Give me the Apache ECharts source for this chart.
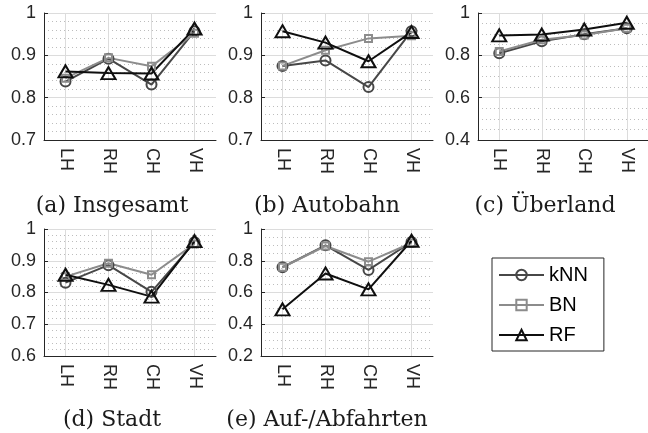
<!DOCTYPE html>
<html>
<head>
<meta charset="utf-8">
<script src="https://cdn.jsdelivr.net/npm/echarts@6/dist/echarts.min.js"></script>
<style>
  html, body { margin: 0; padding: 0; background: #fff; }
  #chart { width: 648px; height: 433px; }
</style>
</head>
<body>
<div id="chart"></div>
<script>
// Categories on every x axis
const categories = ['LH', 'RH', 'CH', 'VH'];

// Panel captions
const captions = ['(a) Insgesamt', '(b) Autobahn', '(c) Überland', '(d) Stadt', '(e) Auf-/Abfahrten'];

// Classifier names
const methods = ['kNN', 'BN', 'RF'];

// (a) Insgesamt
const knnInsgesamt = [0.838, 0.892, 0.831, 0.957];
const bnInsgesamt  = [0.846, 0.894, 0.874, 0.952];
const rfInsgesamt  = [0.862, 0.858, 0.857, 0.963];

// (b) Autobahn
const knnAutobahn = [0.875, 0.888, 0.825, 0.957];
const bnAutobahn  = [0.875, 0.912, 0.940, 0.946];
const rfAutobahn  = [0.957, 0.930, 0.886, 0.955];

// (c) Überland
const knnUeberland = [0.810, 0.866, 0.900, 0.928];
const bnUeberland  = [0.818, 0.874, 0.896, 0.928];
const rfUeberland  = [0.894, 0.898, 0.922, 0.954];

// (d) Stadt
const knnStadt = [0.831, 0.886, 0.802, 0.958];
const bnStadt  = [0.850, 0.892, 0.856, 0.953];
const rfStadt  = [0.856, 0.824, 0.787, 0.962];

// (e) Auf-/Abfahrten
const knnRampen = [0.759, 0.897, 0.742, 0.918];
const bnRampen  = [0.759, 0.893, 0.794, 0.912];
const rfRampen  = [0.494, 0.720, 0.620, 0.926];

const panelData = [
  [knnInsgesamt, bnInsgesamt, rfInsgesamt],
  [knnAutobahn, bnAutobahn, rfAutobahn],
  [knnUeberland, bnUeberland, rfUeberland],
  [knnStadt, bnStadt, rfStadt],
  [knnRampen, bnRampen, rfRampen]
];

// Y axis ranges per panel
const yMins  = [0.7, 0.7, 0.4, 0.6, 0.2];
const yMaxs  = [1, 1, 1, 1, 1];
const ySteps = [0.1, 0.1, 0.2, 0.1, 0.2];
const yMinorSplits = [5, 5, 4, 5, 4];

// Layout of the five plot areas
const gridBoxes = [
  { left: 44,  top: 13,  width: 172, height: 127 },
  { left: 261, top: 13,  width: 172, height: 127 },
  { left: 478, top: 13,  width: 174, height: 127 },
  { left: 44,  top: 229, width: 172, height: 127 },
  { left: 261, top: 229, width: 172, height: 127 }
];
const captionPos = [[112, 206], [327, 206], [545, 206], [112, 420], [327, 420]];

const lineColors = ['#474747', '#8c8c8c', '#0f0f0f'];
const symbols = ['circle', 'rect', 'triangle'];
const symbolSizes = [10, 7, [14, 12]];

const axisColor = '#262626';
const labelFont = 'Liberation Sans, Arial, Helvetica, sans-serif';

const grids = [], xAxes = [], yAxes = [], series = [], graphics = [];

gridBoxes.forEach((g, i) => {
  grids.push(Object.assign({ containLabel: false }, g));
  xAxes.push({
    type: 'category',
    gridIndex: i,
    data: categories,
    boundaryGap: true,
    axisLine: { onZero: false, lineStyle: { color: axisColor, width: 1 } },
    axisTick: { inside: true, alignWithLabel: true, length: 4, lineStyle: { color: axisColor } },
    axisLabel: { rotate: -90, interval: 0, margin: 8, fontSize: 18, color: axisColor, fontFamily: labelFont },
    splitLine: { show: true, alignWithLabel: true, lineStyle: { color: '#dcdcdc', width: 1 } }
  });
  yAxes.push({
    type: 'value',
    gridIndex: i,
    min: yMins[i],
    max: yMaxs[i],
    interval: ySteps[i],
    axisLine: { show: true, lineStyle: { color: axisColor, width: 1 } },
    axisTick: { show: true, inside: true, length: 4, lineStyle: { color: axisColor } },
    axisLabel: {
      margin: 8, fontSize: 18, color: axisColor, fontFamily: labelFont,
      formatter: v => String(Math.round(v * 10) / 10)
    },
    splitLine: { show: true, lineStyle: { color: '#dcdcdc', width: 1 } },
    minorTick: { show: false, splitNumber: yMinorSplits[i] },
    minorSplitLine: { show: true, lineStyle: { color: '#bdbdbd', width: 1, type: [1, 3] } }
  });
  panelData[i].forEach((vals, m) => {
    series.push({
      name: methods[m],
      type: 'line',
      xAxisIndex: i,
      yAxisIndex: i,
      data: vals,
      symbol: symbols[m],
      symbolSize: symbolSizes[m],
      showAllSymbol: true,
      animation: false,
      lineStyle: { color: lineColors[m], width: 2 },
      itemStyle: { color: 'transparent', borderColor: lineColors[m], borderWidth: 2 },
      emphasis: { disabled: true }
    });
  });
  graphics.push({
    type: 'text',
    x: captionPos[i][0],
    y: captionPos[i][1],
    style: {
      text: captions[i],
      font: '22px "DejaVu Serif", serif',
      fill: '#1a1a1a',
      textAlign: 'center',
      textVerticalAlign: 'middle'
    }
  });
});

const chart = echarts.init(document.getElementById('chart'), null, { renderer: 'canvas' });
chart.setOption({
  animation: false,
  backgroundColor: '#fff',
  grid: grids,
  xAxis: xAxes,
  yAxis: yAxes,
  series: series,
  graphic: graphics,
  legend: {
    data: methods,
    orient: 'vertical',
    left: 492,
    top: 258,
    itemWidth: 45,
    itemHeight: 13,
    itemGap: 10,
    padding: [7, 16, 6, 6],
    borderColor: axisColor,
    borderWidth: 1,
    selectedMode: false,
    textStyle: { fontSize: 20, color: '#000', fontFamily: labelFont }
  }
});
</script>
</body>
</html>
